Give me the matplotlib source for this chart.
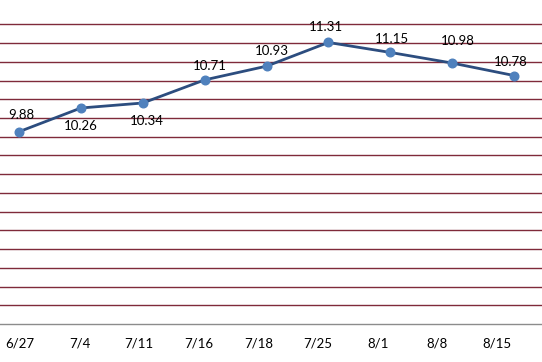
import matplotlib
matplotlib.use("Agg")
import matplotlib.pyplot as plt
import numpy as np

categories = ["6/27", "7/4", "7/11", "7/16", "7/18", "7/25", "8/1", "8/8", "8/15"]
values = [9.88, 10.26, 10.34, 10.71, 10.93, 11.31, 11.15, 10.98, 10.78]
label_texts = ["9.88", "10.26", "10.34", "10.71", "10.93", "11.31", "11.15", "10.98", "10.78"]
label_offsets = [(2, 12), (0, -13), (3, -13), (4, 10), (4, 11), (-2, 11), (1, 10), (4, 16), (-2, 10)]

plt.rcParams['font.family'] = ['Lato', 'DejaVu Sans']

fig = plt.figure(figsize=(5.42, 3.62), dpi=100)
bottom = (362 - 324) / 362
ax = fig.add_axes([0, bottom, 1, 1 - bottom])

x = np.arange(len(categories))
ymin, ymax = 6.8, 11.99
ax.set_ylim(ymin, ymax)
ax.set_xlim(-19 / 61.875, 8 + 28 / 61.875)

grid_levels = [6.8 + 0.3 * k for k in range(1, 17)]
for g in grid_levels:
    ax.axhline(g, color="#7F2A3A", lw=1.0, zorder=1)

ax.plot(x, values, color="#2C4D7F", lw=2.0, zorder=3)
ax.plot(x, values, "o", color="#4F81BD", ms=6.2, mec="#4F81BD", zorder=4)

for xi, v, t, off in zip(x, values, label_texts, label_offsets):
    ax.annotate(t, (xi, v), xytext=off, textcoords="offset points",
                ha="center", va="center", fontsize=9.5, color="black", zorder=5)

for s in ["top", "left", "right"]:
    ax.spines[s].set_visible(False)
ax.spines["bottom"].set_color("#8C8C8C")
ax.spines["bottom"].set_linewidth(1.0)
ax.set_yticks([])
ax.set_xticks([])

# category labels axis
ax2 = ax.twiny()
ax2.set_position(ax.get_position())
ax2.set_xlim(-20 / 59.6, 8 + 45 / 59.6)
ax2.xaxis.set_ticks_position("bottom")
ax2.xaxis.set_label_position("bottom")
ax2.set_xticks(x)
ax2.set_xticklabels(categories, fontsize=9.5)
ax2.tick_params(axis="x", length=0, pad=10)
for s in ax2.spines.values():
    s.set_visible(False)
ax2.set_yticks([])

fig.savefig("out.png", dpi=100)
